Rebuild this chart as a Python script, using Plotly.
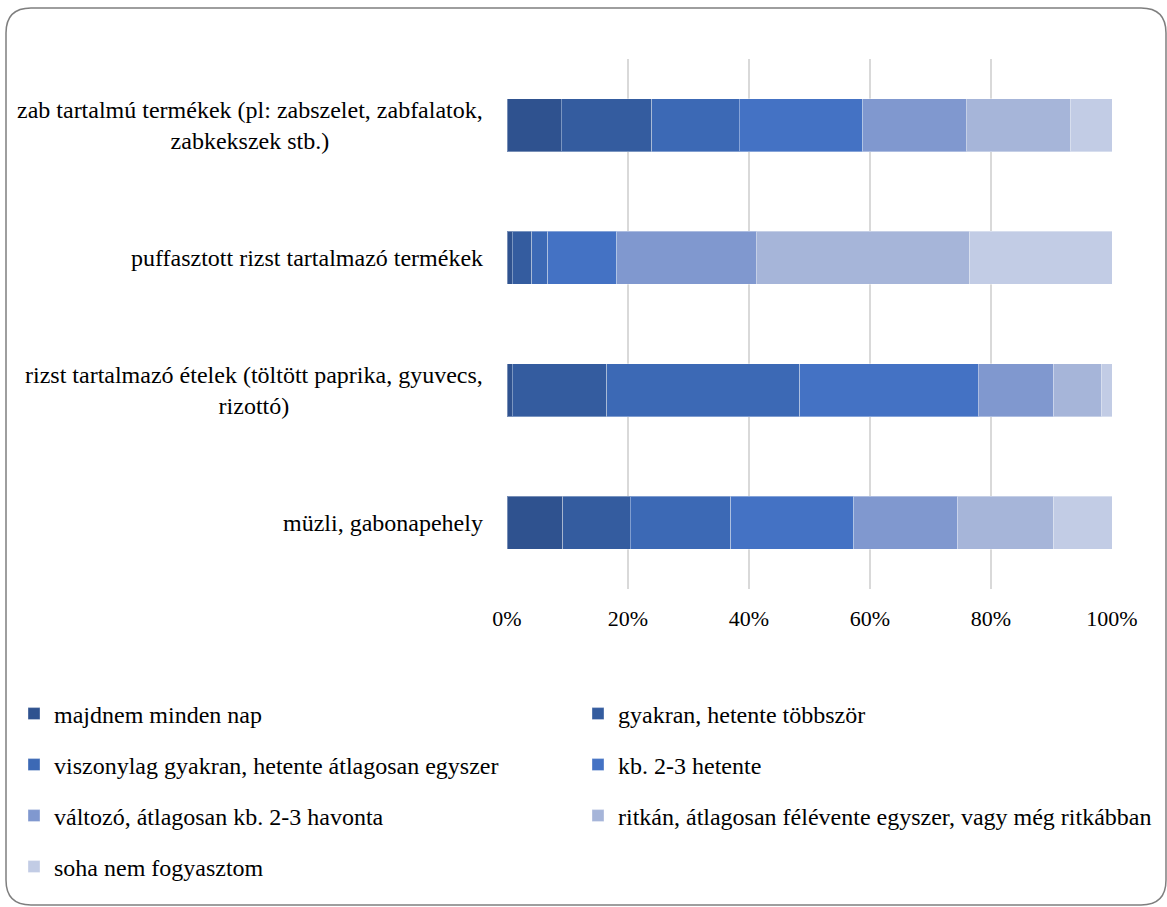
import plotly.graph_objects as go

categories = [
    "zab tartalmú termékek (pl: zabszelet, zabfalatok,<br>zabkekszek stb.)",
    "puffasztott rizst tartalmazó termékek",
    "rizst tartalmazó ételek (töltött paprika, gyuvecs,<br>rizottó)",
    "müzli, gabonapehely",
]
series_names = [
    "majdnem minden nap",
    "gyakran, hetente többször",
    "viszonylag gyakran, hetente átlagosan egyszer",
    "kb. 2-3 hetente",
    "változó, átlagosan kb. 2-3 havonta",
    "ritkán, átlagosan félévente egyszer, vagy még ritkábban",
    "soha nem fogyasztom",
]
# percentage shares per category (top-to-bottom order of categories)
majdnem = [9.0, 0.9, 0.9, 9.2]
gyakran = [14.9, 3.2, 15.6, 11.2]
viszonylag = [14.5, 2.6, 31.9, 16.6]
kb23het = [20.4, 11.4, 29.5, 20.3]
valtozo = [17.1, 23.1, 12.5, 17.2]
ritkan = [17.2, 35.3, 7.8, 15.9]
soha = [6.9, 23.5, 1.8, 9.6]
series_values = [majdnem, gyakran, viszonylag, kb23het, valtozo, ritkan, soha]
colors = ["#2F528F", "#345C9F", "#3C69B5", "#4472C4", "#8098CF", "#A6B5D9", "#C2CCE5"]
tick_vals = [0, 20, 40, 60, 80, 100]
tick_text = ["0%", "20%", "40%", "60%", "80%", "100%"]

FONT = "Liberation Serif"
W, H = 1167, 907
L, R, T, B = 507, 55, 59, 318
PW, PH = W - L - R, H - T - B


def px(x):
    return (x - L) / PW


def py(y):
    return (H - B - y) / PH


fig = go.Figure()
legend_pos = [(0, 0), (1, 0), (0, 1), (1, 1), (0, 2), (1, 2), (0, 3)]
for i, (name, vals, col) in enumerate(zip(series_names, series_values, colors)):
    lg = "legend" if i == 0 else f"legend{i+1}"
    fig.add_trace(go.Bar(
        y=categories, x=vals, name=name, orientation="h",
        marker=dict(color=col, line=dict(color="rgba(255,255,255,0.35)", width=1)),
        legend=lg,
    ))

legend_cfg = {}
for i, (c, r) in enumerate(legend_pos):
    key = "legend" if i == 0 else f"legend{i+1}"
    x0 = 14 + c * 564
    y0 = 714 + r * 51
    legend_cfg[key] = dict(
        x=px(x0), y=py(y0), xanchor="left", yanchor="middle",
        xref="paper", yref="paper",
        font=dict(family=FONT, size=24, color="#000000"),
        bgcolor="rgba(0,0,0,0)", borderwidth=0,
    )

annotations = []
for cat in categories:
    annotations.append(dict(
        x=px(485), xref="paper", y=cat, yref="y",
        text=cat, showarrow=False, xanchor="right", yanchor="middle",
        align="center", font=dict(family=FONT, size=24, color="#000000"),
    ))

# rounded frame
rx, ry = 25, 25
fx0, fy0, fx1, fy1 = 6, 8, 1166, 905
path = (
    f"M {px(fx0 + rx)},{py(fy0)} L {px(fx1 - rx)},{py(fy0)} "
    f"Q {px(fx1)},{py(fy0)} {px(fx1)},{py(fy0 + ry)} "
    f"L {px(fx1)},{py(fy1 - ry)} Q {px(fx1)},{py(fy1)} {px(fx1 - rx)},{py(fy1)} "
    f"L {px(fx0 + rx)},{py(fy1)} Q {px(fx0)},{py(fy1)} {px(fx0)},{py(fy1 - ry)} "
    f"L {px(fx0)},{py(fy0 + ry)} Q {px(fx0)},{py(fy0)} {px(fx0 + rx)},{py(fy0)} Z"
)

fig.update_layout(
    width=W, height=H,
    margin=dict(l=L, r=R, t=T, b=B, autoexpand=False),
    barmode="stack", bargap=0.6,
    plot_bgcolor="white", paper_bgcolor="white",
    font=dict(family=FONT, size=22, color="#000000"),
    xaxis=dict(
        range=[0, 100], tickvals=tick_vals, ticktext=tick_text,
        showgrid=True, gridcolor="#D9D9D9", gridwidth=1.5,
        zeroline=False, showline=False, ticks="",
        tickfont=dict(family=FONT, size=22, color="#000000"),
        ticklabelstandoff=14, fixedrange=True, automargin=False,
    ),
    yaxis=dict(
        autorange="reversed", showticklabels=False, showgrid=False,
        zeroline=False, showline=False, ticks="", fixedrange=True,
        automargin=False,
    ),
    annotations=annotations,
    shapes=[dict(type="path", path=path, xref="paper", yref="paper",
                 line=dict(color="#7F7F7F", width=1.5), layer="above")],
    showlegend=True,
    **legend_cfg,
)

fig.write_html("out.html")
